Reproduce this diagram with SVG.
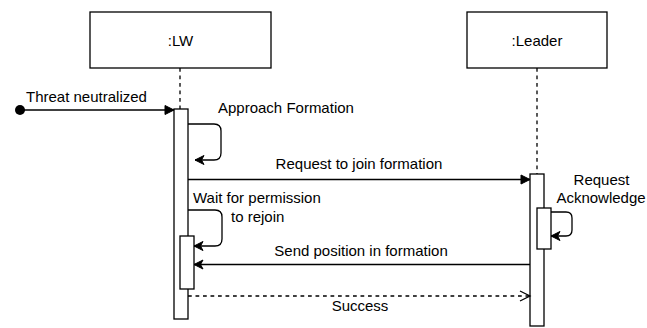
<svg xmlns="http://www.w3.org/2000/svg" width="647" height="328" viewBox="0 0 647 328">
<style>
  text { font-family: "Liberation Sans", Arial, sans-serif; font-size: 15px; fill: #000; }
  .box { fill: #fff; stroke: #000; stroke-width: 1.3; }
  .life { stroke: #000; stroke-width: 1.3; stroke-dasharray: 3.75 3.75; fill: none; }
  .msg { stroke: #000; stroke-width: 1.3; fill: none; }
  .dash { stroke-dasharray: 3.75 3.75; }
</style>
<defs>
  <marker id="block" markerUnits="userSpaceOnUse" markerWidth="12" markerHeight="12" viewBox="-10 -6 12 12" refX="0" refY="0" orient="auto">
    <path d="M0,0 L-9,-4.5 L-9,4.5 Z" fill="#000" stroke="#000" stroke-width="1"/>
  </marker>
  <marker id="classic" markerUnits="userSpaceOnUse" markerWidth="12" markerHeight="12" viewBox="-10 -6 12 12" refX="0" refY="0" orient="auto">
    <path d="M0,0 L-9,-4.5 L-6.5,0 L-9,4.5 Z" fill="#000" stroke="#000" stroke-width="1"/>
  </marker>
  <marker id="open" markerUnits="userSpaceOnUse" markerWidth="14" markerHeight="14" viewBox="-12 -7 14 14" refX="0" refY="0" orient="auto">
    <path d="M-10,-5 L0,0 L-10,5" fill="none" stroke="#000" stroke-width="1.3"/>
  </marker>
</defs>

<g id="lw">
  <line class="life" x1="180" y1="68" x2="180" y2="109"/>
  <rect class="box" x="90" y="12" width="181" height="56"/>
  <text x="180.5" y="46" text-anchor="middle">:LW</text>
  <rect class="box" x="174" y="109" width="14" height="210"/>
  <rect class="box" x="180" y="236" width="14" height="53"/>
</g>

<g id="leader">
  <line class="life" x1="537" y1="68" x2="537" y2="174"/>
  <rect class="box" x="467" y="12" width="140" height="56"/>
  <text x="537" y="46" text-anchor="middle">:Leader</text>
  <rect class="box" x="530" y="174" width="14" height="152"/>
  <rect class="box" x="537" y="208" width="14" height="41"/>
</g>

<g id="start">
  <circle cx="20" cy="110" r="5" fill="#000"/>
</g>

<g id="connectors">
  <line class="msg" x1="20" y1="110" x2="174" y2="110" marker-end="url(#block)"/>
  <text x="26" y="102">Threat neutralized</text>

  <path class="msg" d="M188,124 H214 Q221,124 221,131 V153 Q221,160 214,160 H195" marker-end="url(#classic)"/>
  <text x="218" y="113">Approach Formation</text>

  <line class="msg" x1="188" y1="179.5" x2="530" y2="179.5" marker-end="url(#block)"/>
  <text x="359" y="169" text-anchor="middle">Request to join formation</text>

  <path class="msg" d="M551,212 H566 Q572,212 572,218 V230 Q572,236 566,236 H551" marker-end="url(#classic)"/>
  <text x="601.5" y="185" text-anchor="middle">Request</text>
  <text x="601" y="203" text-anchor="middle">Acknowledge</text>

  <path class="msg" d="M188,210 H215 Q222,210 222,217 V239 Q222,246 215,246 H194" marker-end="url(#classic)"/>
  <text x="193" y="203">Wait for permission</text>
  <text x="231" y="222">to rejoin</text>

  <line class="msg" x1="530" y1="264.5" x2="194" y2="264.5" marker-end="url(#classic)"/>
  <text x="361" y="256" text-anchor="middle">Send position in formation</text>

  <line class="msg dash" x1="188" y1="296" x2="530" y2="296" marker-end="url(#open)"/>
  <text x="360" y="311" text-anchor="middle">Success</text>
</g>
</svg>
